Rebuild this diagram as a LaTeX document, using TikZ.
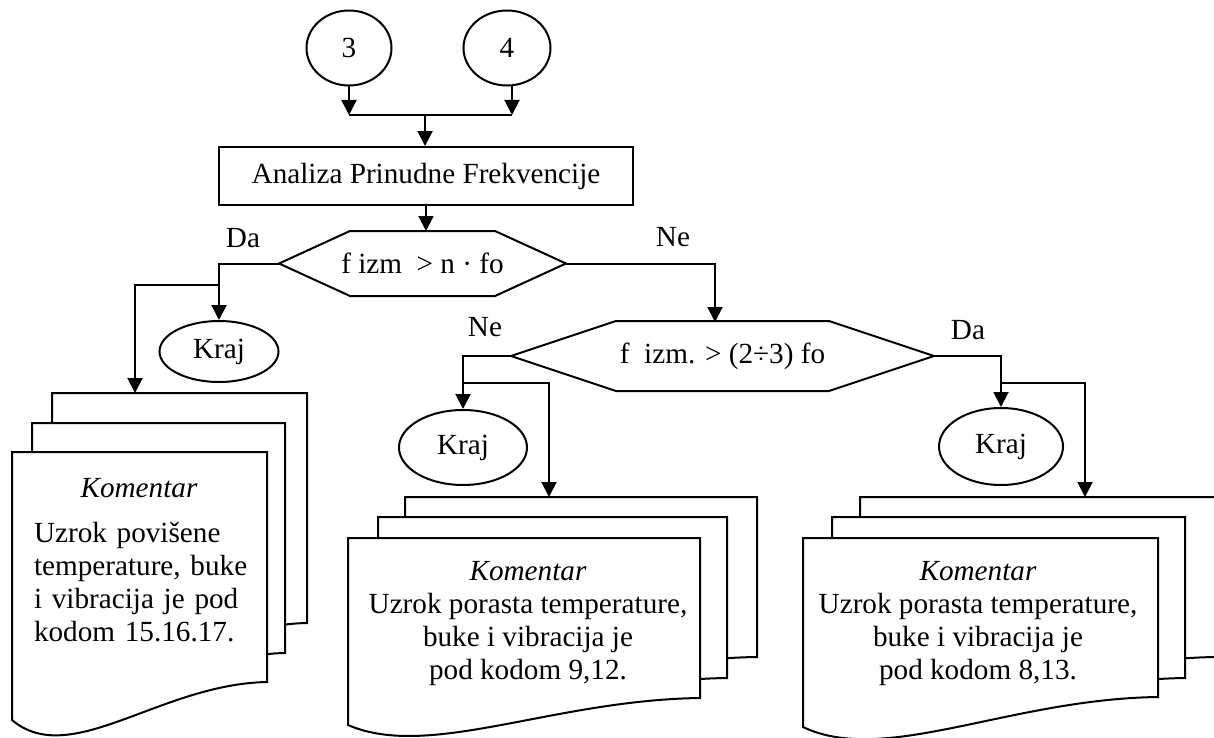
\documentclass[tikz,border=0pt]{standalone}
\usepackage{fontspec}
\setmainfont{Liberation Serif}
\usetikzlibrary{arrows.meta, shapes.geometric, calc}

% one sheet of a multi-document: left, top, right, right bottom, left bottom
\newcommand{\docsheet}[5]{%
  \pgfmathsetmacro{\cax}{#1+0.23*(#3-#1)}%
  \pgfmathsetmacro{\cay}{#5+1.3*(#5-#4)}%
  \pgfmathsetmacro{\cbx}{#1+0.58*(#3-#1)}%
  \draw[sheet] (#1,#5) -- (#1,#2) -- (#3,#2) -- (#3,#4)
    .. controls (\cbx,#4+2) and (\cax,\cay) .. cycle;}
% hexagon outline round a decision node
\newcommand{\hexdec}[2]{%
  \draw (#1.west) -- ($(#1.north west)+(#2,0)$) -- ($(#1.north east)+(-#2,0)$)
    -- (#1.east) -- ($(#1.south east)+(-#2,0)$) -- ($(#1.south west)+(#2,0)$) -- cycle;}

\begin{document}
\begin{tikzpicture}[x=0.5pt, y=-0.5pt, >={Triangle[length=7.5pt,width=7.5pt]},
    line width=1pt, font=\fontsize{14.6}{16.5}\selectfont,
    term/.style={ellipse, draw, inner sep=0pt},
    proc/.style={rectangle, draw, minimum width=207pt, minimum height=29pt, inner sep=0pt},
    dec/.style={rectangle, inner sep=0pt},
    sheet/.style={draw, fill=white},
    note/.style={inner sep=0pt, anchor=north}]
        \useasboundingbox (0,0) rectangle (1214,738);
        \clip (0,0) rectangle (1214,738);

        % Sheets
        \docsheet{52}{393}{307}{623}{661}
        \docsheet{32}{423}{285}{653}{691}
        \docsheet{12}{452}{267}{682}{720}

        \docsheet{405}{497}{757}{657}{684}
        \docsheet{378}{517}{727}{678}{705}
        \docsheet{348}{538}{700}{698}{725}

        \docsheet{860}{497}{1216}{657}{687}
        \docsheet{832}{517}{1185}{678}{708}
        \docsheet{803}{538}{1158}{697}{727}

        \node[note, anchor=north west, text width=110pt, align=left] (n1) at (33,477)
            {\makebox[105pt]{\textit{Komentar}}\\[6pt] Uzrok povišene\\ temperature, buke\\ i vibracija je pod\\ kodom 15.16.17.};
        \node[note, align=center] (n2) at (528,560)
            {\textit{Komentar}\\ Uzrok porasta temperature,\\ buke i vibracija je\\ pod kodom 9,12.};
        \node[note, align=center] (n3) at (978,560)
            {\textit{Komentar}\\ Uzrok porasta temperature,\\ buke i vibracija je\\ pod kodom 8,13.};

        % Nodes
        \node[term, minimum width=42.5pt, minimum height=37.5pt] (c3) at (349,48) {3};
        \node[term, minimum width=43.5pt, minimum height=37.5pt] (c4) at (507,48) {4};
        \node[proc] (box) at (426,176) {Analiza Prinudne Frekvencije};
        \node[dec, minimum width=142.5pt, minimum height=31.5pt] (d1) at (422.5,263.5) {f izm~ > n · fo};
        \node[dec, minimum width=210.5pt, minimum height=34pt] (d2) at (722.5,356) {f~ izm. > (2÷3) fo};
        \hexdec{d1}{71}
        \hexdec{d2}{105}

        \node[term, minimum width=59.5pt, minimum height=30.5pt] (k1) at (219,351.5) {Kraj};
        \node[term, minimum width=64pt, minimum height=37.5pt] (k2) at (463,447.5) {Kraj};
        \node[term, minimum width=62pt, minimum height=38.5pt] (k3) at (1001,446.5) {Kraj};

        \node (da1) at (243,238) {Da};
        \node (ne1) at (673,237) {Ne};
        \node (ne2) at (485,327) {Ne};
        \node (da2) at (968,330) {Da};

        \coordinate (m3) at (349,115);
        \coordinate (m4) at (512,115);
        \coordinate (m) at (425,115);
        \coordinate (t2) at (715,322);
        \coordinate (j1) at (219,285);
        \coordinate (j2) at (463,383);
        \coordinate (j3) at (1001,383);
        \coordinate (s1) at (135,393);
        \coordinate (s2) at (549,497);
        \coordinate (s3) at (1085,497);

        \draw[->] (c3) -- (m3);
        \draw[->] (c4.south -| m4) -- (m4);
        \draw (m3) -- (m4);
        \draw[->] (m) -- (m |- box.north);
        \draw[->] (box) -- (box |- d1.north);

        \draw[->] (d1.west) -| (k1.north);
        \draw[->] (j1) -| (s1);
        \draw[->] (d1.east) -| (t2);

        \draw[->] (d2.west) -| (k2.north);
        \draw[->] (j2) -| (s2);
        \draw[->] (d2.east) -| (k3.north);
        \draw[->] (j3) -| (s3);
    \end{tikzpicture}
\end{document}
